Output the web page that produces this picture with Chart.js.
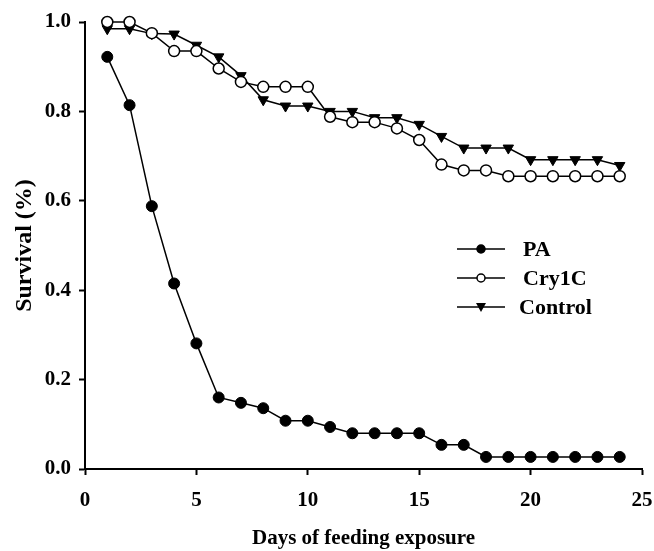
<!DOCTYPE html>
<html>
<head>
<meta charset="utf-8">
<script src="https://cdn.jsdelivr.net/npm/chart.js@4.4.0/dist/chart.umd.min.js"></script>
<style>
  html, body { margin: 0; padding: 0; background: #fff; }
  #wrap { width: 654px; height: 551px; }
</style>
</head>
<body>
<div id="wrap"><canvas id="survivalChart" width="654" height="551"></canvas></div>
<script>
// days of feeding exposure
const days = [1, 2, 3, 4, 5, 6, 7, 8, 9, 10, 11, 12, 13, 14, 15, 16, 17, 18, 19, 20, 21, 22, 23, 24];

// survival
const paSurvival = [0.922, 0.814, 0.588, 0.415, 0.281, 0.160, 0.148, 0.136, 0.108, 0.108, 0.094, 0.080,
    0.080, 0.080, 0.080, 0.054, 0.054, 0.027, 0.027, 0.027, 0.027, 0.027, 0.027, 0.027];
const cry1cSurvival = [1.000, 1.000, 0.975, 0.935, 0.935, 0.896, 0.866, 0.855, 0.855, 0.855, 0.788, 0.776,
    0.776, 0.762, 0.736, 0.681, 0.668, 0.668, 0.655, 0.655, 0.655, 0.655, 0.655, 0.655];
const controlSurvival = [0.985, 0.985, 0.974, 0.973, 0.948, 0.922, 0.880, 0.826, 0.812, 0.812, 0.800, 0.800,
    0.786, 0.786, 0.771, 0.744, 0.718, 0.718, 0.718, 0.692, 0.692, 0.692, 0.692, 0.679];

const seriesNames = ["PA", "Cry1C", "Control"];
const xTicks = [0, 5, 10, 15, 20, 25];
const yTicks = [0.0, 0.2, 0.4, 0.6, 0.8, 1.0];

const serif = "'Liberation Serif', 'Times New Roman', serif";

function toPoints(values) {
    return days.map((d, i) => ({ x: d, y: values[i] }));
}

// Legend drawn by hand so it can sit inside the plot like the original
const sideLegend = {
    id: "sideLegend",
    afterDraw(chart) {
        const ctx = chart.ctx;
        const rows = [
            { label: seriesNames[0], y: 249, marker: "dot" },
            { label: seriesNames[1], y: 278, marker: "ring" },
            { label: seriesNames[2], y: 307, marker: "tri" }
        ];
        ctx.save();
        rows.forEach(r => {
            ctx.strokeStyle = "#000";
            ctx.lineWidth = 1.5;
            ctx.beginPath();
            ctx.moveTo(457, r.y);
            ctx.lineTo(505, r.y);
            ctx.stroke();
            ctx.beginPath();
            if (r.marker === "tri") {
                ctx.moveTo(476, r.y - 4);
                ctx.lineTo(486, r.y - 4);
                ctx.lineTo(481, r.y + 5);
                ctx.closePath();
                ctx.fillStyle = "#000";
                ctx.fill();
            } else {
                ctx.arc(481, r.y, 4, 0, Math.PI * 2);
                ctx.fillStyle = r.marker === "dot" ? "#000" : "#fff";
                ctx.fill();
                ctx.stroke();
            }
            ctx.fillStyle = "#000";
            ctx.font = "bold 22px " + serif;
            ctx.textAlign = "left";
            ctx.textBaseline = "middle";
            ctx.fillText(r.label, r.label === "Control" ? 519 : 523, r.y + 1);
        });
        ctx.restore();
    }
};

const whiteBg = {
    id: "whiteBg",
    beforeDraw(chart) {
        const ctx = chart.ctx;
        ctx.save();
        ctx.fillStyle = "#fff";
        ctx.fillRect(0, 0, chart.width, chart.height);
        ctx.restore();
    }
};

const ctx = document.getElementById("survivalChart").getContext("2d");
new Chart(ctx, {
    type: "line",
    data: {
        datasets: [
            {
                label: seriesNames[0],
                data: toPoints(paSurvival),
                clip: false,
                borderColor: "#000",
                borderWidth: 1.5,
                pointStyle: "circle",
                pointRadius: 5.5,
                pointBackgroundColor: "#000",
                pointBorderColor: "#000",
                pointBorderWidth: 1
            },
            {
                label: seriesNames[1],
                data: toPoints(cry1cSurvival),
                clip: false,
                borderColor: "#000",
                borderWidth: 1.5,
                pointStyle: "circle",
                pointRadius: 5.5,
                pointBackgroundColor: "#fff",
                pointBorderColor: "#000",
                pointBorderWidth: 1.5
            },
            {
                label: seriesNames[2],
                data: toPoints(controlSurvival),
                clip: false,
                borderColor: "#000",
                borderWidth: 1.5,
                pointStyle: "triangle",
                pointRotation: 180,
                pointRadius: 6,
                pointBackgroundColor: "#000",
                pointBorderColor: "#000",
                pointBorderWidth: 1
            }
        ]
    },
    options: {
        responsive: false,
        animation: false,
        layout: { padding: { top: 22, right: 0, left: 0, bottom: 0 } },
        plugins: {
            legend: { display: false },
            tooltip: { enabled: false }
        },
        scales: {
            x: {
                type: "linear",
                min: 0,
                max: 25,
                afterBuildTicks: axis => { axis.ticks = xTicks.map(v => ({ value: v })); },
                afterFit: axis => {
                    axis.height = 82;
                    axis.paddingRight = 12;
                },
                grid: { drawOnChartArea: false, drawTicks: true, tickLength: 6, tickWidth: 2, color: "#000" },
                border: { display: true, color: "#000", width: 2 },
                ticks: {
                    color: "#000",
                    padding: 13,
                    font: { family: serif, size: 21, weight: "bold" }
                },
                title: {
                    display: true,
                    text: "Days of feeding exposure",
                    color: "#000",
                    padding: { top: 0, bottom: 0 },
                    font: { family: serif, size: 21, weight: "bold" }
                }
            },
            y: {
                min: 0,
                max: 1,
                afterBuildTicks: axis => { axis.ticks = yTicks.map(v => ({ value: v })); },
                afterFit: axis => { axis.width = 85; },
                grid: { drawOnChartArea: false, drawTicks: true, tickLength: 6, tickWidth: 2, color: "#000" },
                border: { display: true, color: "#000", width: 2 },
                ticks: {
                    color: "#000",
                    padding: 8,
                    callback: v => v.toFixed(1),
                    font: { family: serif, size: 21, weight: "bold" }
                },
                title: {
                    display: true,
                    text: "Survival (%)",
                    color: "#000",
                    padding: { top: 10, bottom: 0 },
                    font: { family: serif, size: 24, weight: "bold" }
                }
            }
        }
    },
    plugins: [whiteBg, sideLegend]
});
</script>
</body>
</html>
